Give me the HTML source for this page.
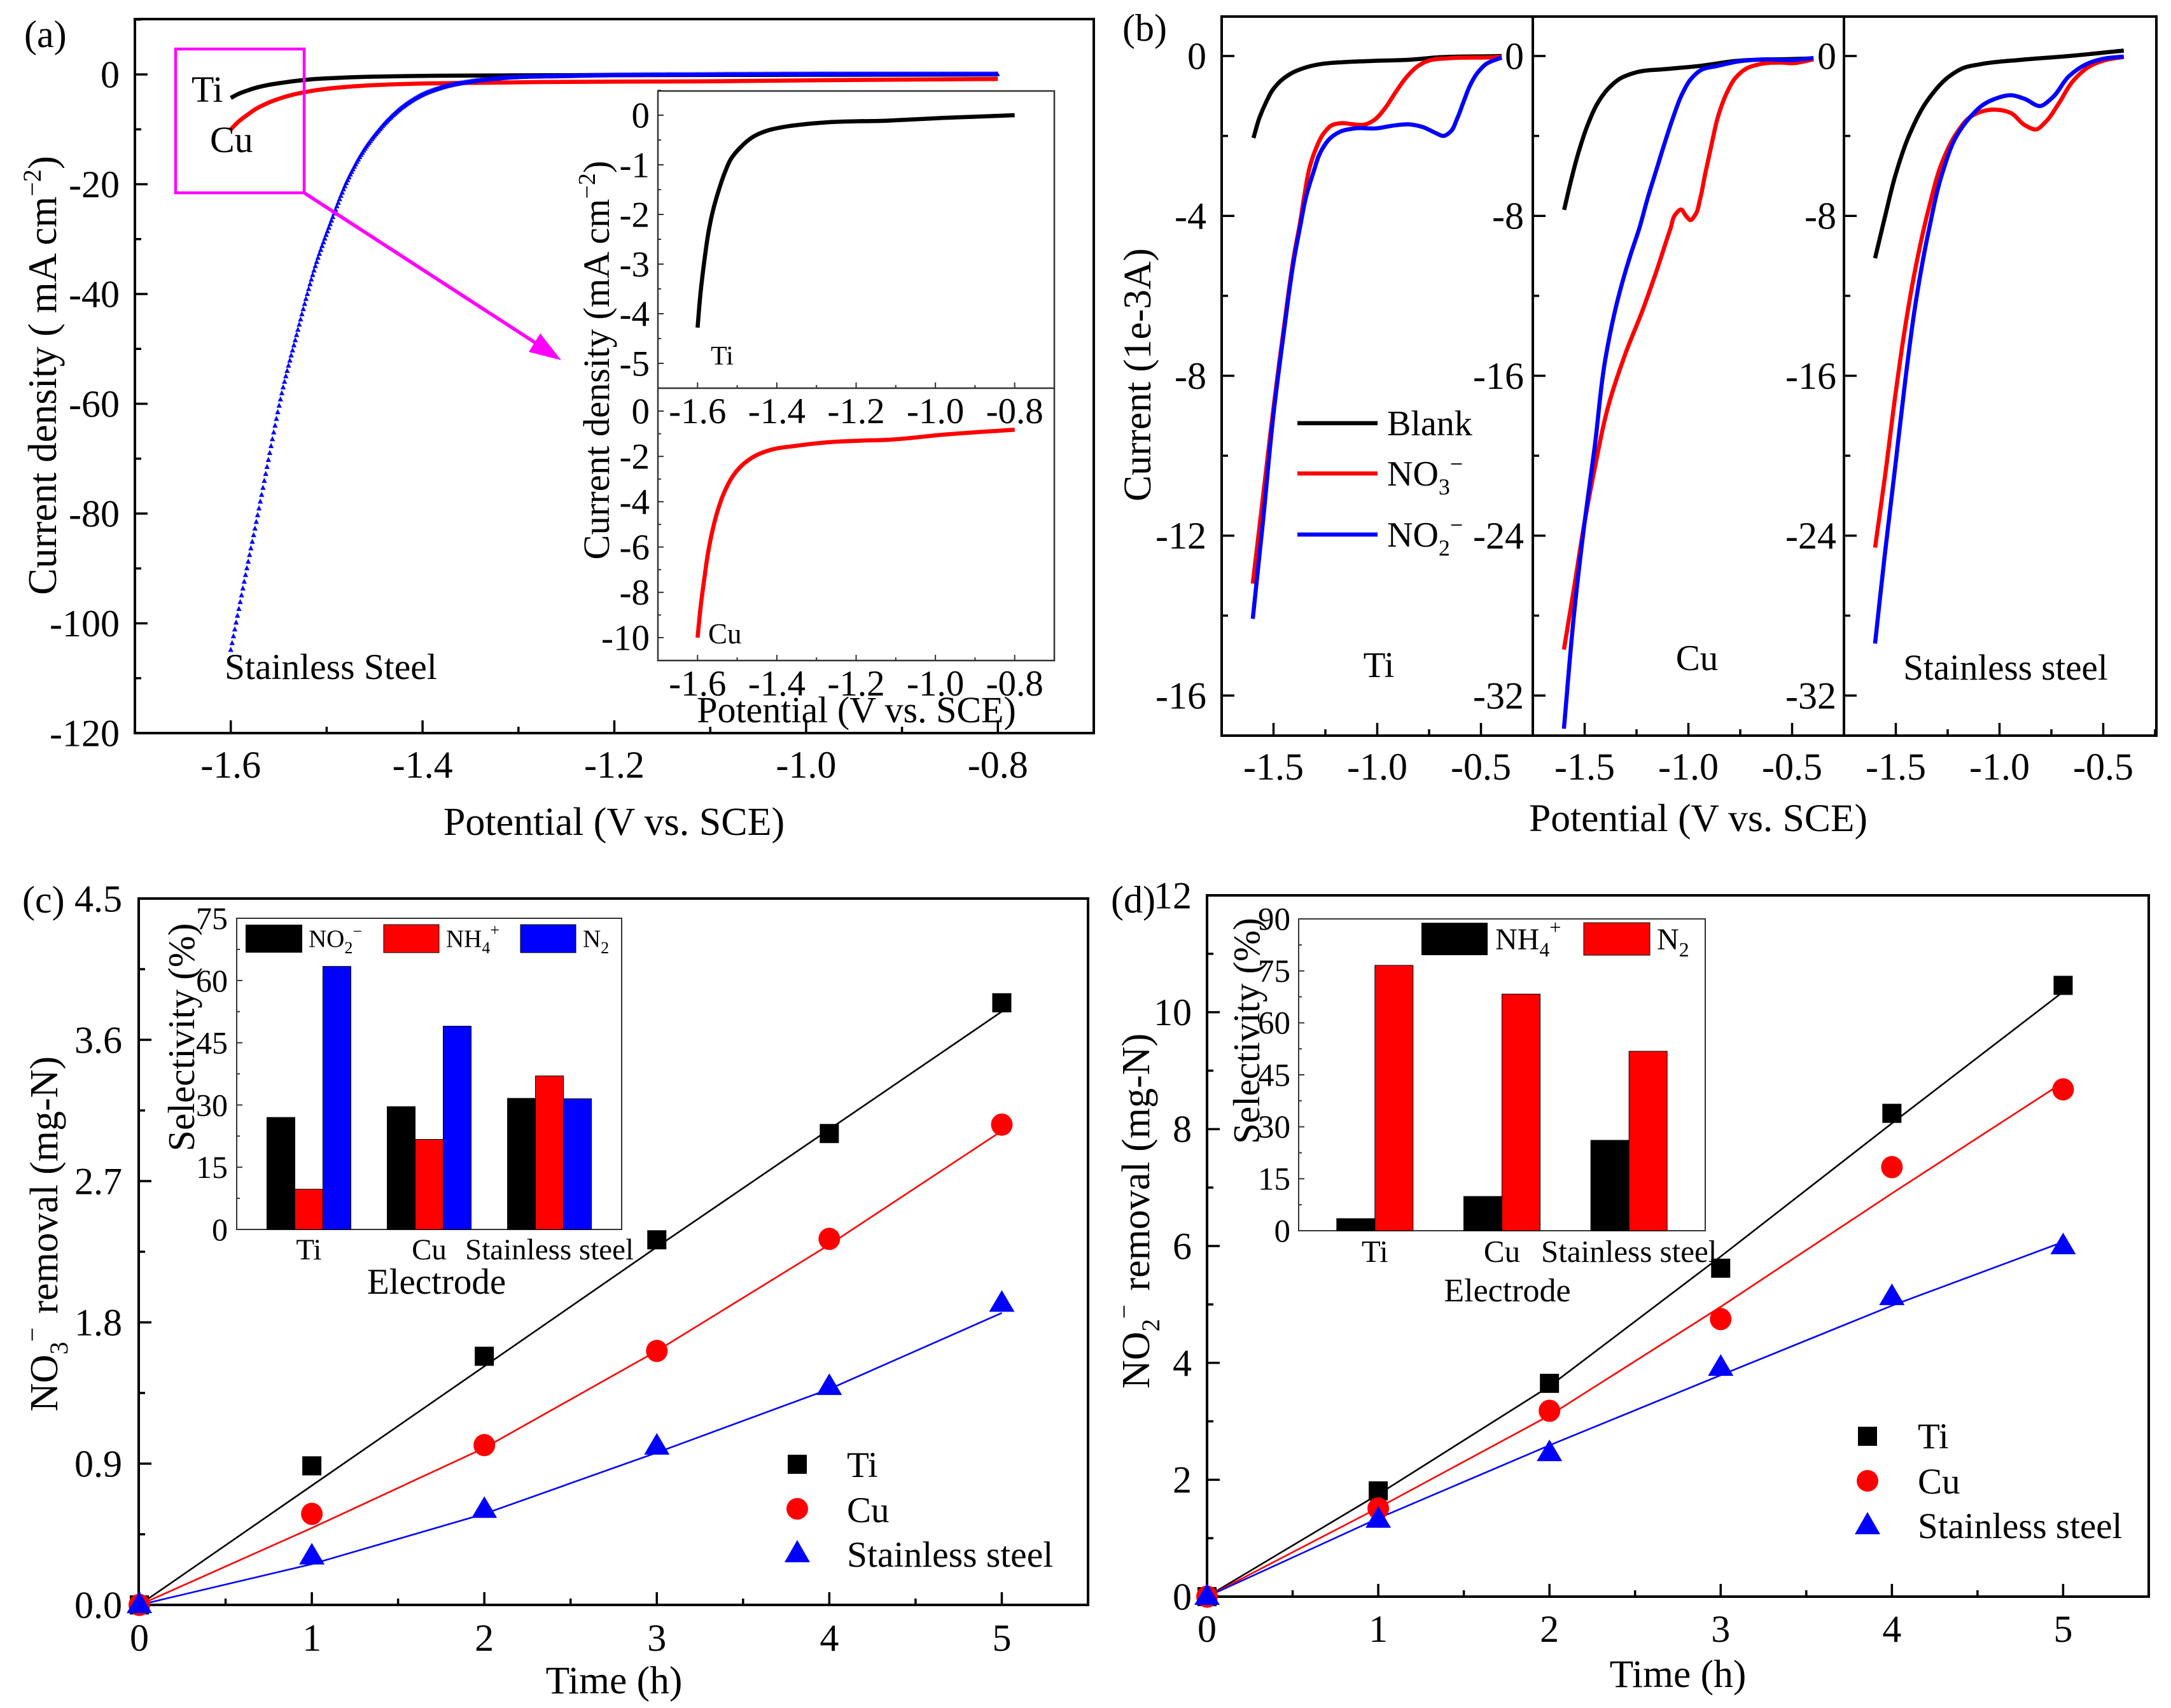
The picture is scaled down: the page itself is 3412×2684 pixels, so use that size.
<!DOCTYPE html>
<html lang="en">
<head>
<meta charset="utf-8">
<title>Electrochemical nitrate and nitrite reduction figure</title>
<style>
html,body{margin:0;padding:0;background:#fff;}
svg{display:block;font-family:"Liberation Serif",serif;fill:#000;}
text{fill:#000;}
</style>
</head>
<body>
<svg id="figure" xmlns="http://www.w3.org/2000/svg" width="3412" height="2684" viewBox="0 0 3412 2684">
  <rect x="0" y="0" width="3412" height="2684" fill="#fff"/>

  <!-- Panel a -->
  <text x="38" y="74" font-size="60">(a)</text>
  <rect x="212" y="30" width="1507" height="1122" fill="none" stroke="#000" stroke-width="4"/>
  <text x="965" y="1312" font-size="62" text-anchor="middle">Potential (V vs. SCE)</text>
  <text transform="translate(88,590) rotate(-90)" font-size="63" text-anchor="middle">Current density ( mA cm<tspan dy="-24" font-size="40">−2</tspan><tspan dy="24">)</tspan></text>
  <g id="panel-a-plot"></g>
  <text x="301" y="160" font-size="58">Ti</text>
  <text x="330" y="239" font-size="58">Cu</text>
  <text x="353" y="1067" font-size="57.5">Stainless Steel</text>
  <rect x="276" y="77" width="202" height="226" fill="none" stroke="#f0f" stroke-width="4.5"/>
  <line x1="478" y1="303" x2="845" y2="541" stroke="#f0f" stroke-width="5.5"/>
  <polygon points="882,566 831,553 849,524" fill="#f0f"/>

  <rect x="1034" y="143" width="623" height="895" fill="#fff" stroke="#333" stroke-width="2.5"/>
  <line x1="1034" y1="610" x2="1657" y2="610" stroke="#333" stroke-width="2.5"/>
  <g id="panel-a-inset"></g>
  <text x="1346" y="1135" font-size="58" text-anchor="middle">Potential (V vs. SCE)</text>
  <text transform="translate(957,566) rotate(-90)" font-size="58.5" text-anchor="middle">Current density (mA cm<tspan dy="-22" font-size="38">−2</tspan><tspan dy="22">)</tspan></text>
  <text x="1117" y="573" font-size="42">Ti</text>
  <text x="1113" y="1011" font-size="45">Cu</text>

  <!-- Panel b -->
  <text x="1764" y="64" font-size="60">(b)</text>
  <rect x="1920" y="26" width="1469" height="1130" fill="none" stroke="#000" stroke-width="4"/>
  <line x1="2409" y1="26" x2="2409" y2="1156" stroke="#000" stroke-width="4"/>
  <line x1="2898" y1="26" x2="2898" y2="1156" stroke="#000" stroke-width="4"/>
  <g id="panel-b-plot"></g>
  <text x="2669" y="1306" font-size="61.5" text-anchor="middle">Potential (V vs. SCE)</text>
  <text transform="translate(1808,589) rotate(-90)" font-size="61.5" text-anchor="middle">Current (1e-3A)</text>
  <line x1="2039" y1="665" x2="2165" y2="665" stroke="#000" stroke-width="6.5"/>
  <text x="2180" y="684" font-size="56">Blank</text>
  <line x1="2039" y1="744" x2="2165" y2="744" stroke="#f00" stroke-width="6.5"/>
  <text x="2180" y="763" font-size="56">NO<tspan dy="14" font-size="36">3</tspan><tspan dy="-36" font-size="36">−</tspan></text>
  <line x1="2039" y1="840" x2="2165" y2="840" stroke="#00f" stroke-width="6.5"/>
  <text x="2180" y="859" font-size="56">NO<tspan dy="14" font-size="36">2</tspan><tspan dy="-36" font-size="36">−</tspan></text>
  <text x="2167" y="1064" font-size="57" text-anchor="middle">Ti</text>
  <text x="2667" y="1053" font-size="57" text-anchor="middle">Cu</text>
  <text x="3152" y="1068" font-size="57" text-anchor="middle">Stainless steel</text>

  <!-- Panel c -->
  <text x="35" y="1434" font-size="60">(c)</text>
  <rect x="218" y="1412" width="1492" height="1110" fill="none" stroke="#000" stroke-width="4"/>
  <g id="panel-c-plot"></g>
  <text x="965" y="2661" font-size="61.5" text-anchor="middle">Time (h)</text>
  <text transform="translate(90,1939) rotate(-90)" font-size="62" text-anchor="middle">NO<tspan dy="16" font-size="40">3</tspan><tspan dy="-42" font-size="40">−</tspan><tspan dy="26" dx="6"> removal (mg-N)</tspan></text>
  <rect x="1238" y="2286" width="30" height="30" fill="#000"/>
  <ellipse cx="1253" cy="2371" rx="17" ry="17" fill="#f00"/>
  <polygon points="1253,2420 1273,2455 1233,2455" fill="#00f"/>
  <text x="1331" y="2321" font-size="57">Ti</text>
  <text x="1331" y="2392" font-size="57">Cu</text>
  <text x="1331" y="2462" font-size="57.5">Stainless steel</text>
  <rect x="372" y="1443" width="605" height="489" fill="#fff" stroke="#333" stroke-width="2"/>
  <g id="panel-c-inset"></g>
  <text transform="translate(305,1630) rotate(-90)" font-size="59.5" text-anchor="middle">Selectivity (%)</text>
  <text x="686" y="2033" font-size="57" text-anchor="middle">Electrode</text>
  <rect x="386" y="1453" width="89" height="44" fill="#000"/>
  <text x="485" y="1488" font-size="39">NO<tspan dy="10" font-size="26">2</tspan><tspan dy="-26" font-size="26">−</tspan></text>
  <rect x="603" y="1453" width="87" height="44" fill="#f00" stroke="#000" stroke-width="1"/>
  <text x="701" y="1488" font-size="39">NH<tspan dy="10" font-size="26">4</tspan><tspan dy="-28" font-size="26">+</tspan></text>
  <rect x="818" y="1453" width="87" height="44" fill="#00f" stroke="#000" stroke-width="1"/>
  <text x="916" y="1488" font-size="39">N<tspan dy="10" font-size="26">2</tspan></text>

  <!-- Panel d -->
  <text x="1746" y="1434" font-size="60">(d)</text>
  <rect x="1897" y="1407" width="1480" height="1102" fill="none" stroke="#000" stroke-width="4"/>
  <g id="panel-d-plot"></g>
  <text x="2637" y="2651" font-size="61.5" text-anchor="middle">Time (h)</text>
  <text transform="translate(1806,1903) rotate(-90)" font-size="62" text-anchor="middle">NO<tspan dy="16" font-size="40">2</tspan><tspan dy="-42" font-size="40">−</tspan><tspan dy="26" dx="6"> removal (mg-N)</tspan></text>
  <rect x="2920" y="2242" width="30" height="30" fill="#000"/>
  <ellipse cx="2935" cy="2327" rx="17" ry="17" fill="#f00"/>
  <polygon points="2935,2376 2955,2411 2915,2411" fill="#00f"/>
  <text x="3014" y="2276" font-size="57">Ti</text>
  <text x="3014" y="2347" font-size="57">Cu</text>
  <text x="3014" y="2417" font-size="57">Stainless steel</text>
  <rect x="2041" y="1444" width="639" height="490" fill="#fff" stroke="#333" stroke-width="2"/>
  <g id="panel-d-inset"></g>
  <text transform="translate(1979,1620) rotate(-90)" font-size="59" text-anchor="middle">Selectivity (%)</text>
  <text x="2369" y="2045" font-size="52" text-anchor="middle">Electrode</text>
  <rect x="2234" y="1450" width="104" height="51" fill="#000"/>
  <text x="2350" y="1492" font-size="48">NH<tspan dy="11" font-size="32">4</tspan><tspan dy="-35" font-size="32">+</tspan></text>
  <rect x="2489" y="1450" width="104" height="51" fill="#f00" stroke="#000" stroke-width="1"/>
  <text x="2604" y="1492" font-size="48">N<tspan dy="11" font-size="32">2</tspan></text>
</svg>

<script>
/* ---------- Panel (a) data ---------- */
const aTiPotential = [-1.6,-1.5925,-1.583,-1.572,-1.562,-1.548,-1.532,-1.516,-1.492,-1.46,-1.423,-1.381,-1.327,-1.274,-1.12,-0.98,-0.8];
const aTiCurrent = [-4.28,-3.58,-2.94,-2.34,-1.95,-1.55,-1.17,-0.885,-0.65,-0.436,-0.308,-0.235,-0.18,-0.145,-0.11,-0.055,0];
const aCuPotential = [-1.6,-1.592,-1.583,-1.574,-1.564,-1.551,-1.535,-1.525,-1.514,-1.487,-1.455,-1.413,-1.354,-1.274,-1.194,-1.114,-0.979,-0.8];
const aCuCurrent = [-10,-8.6,-7.4,-6.3,-5.4,-4.5,-3.68,-3.3,-2.95,-2.38,-1.98,-1.7,-1.54,-1.38,-1.31,-1.26,-1.04,-0.82];
const aSteelPotential = [-1.6,-1.585,-1.57,-1.555,-1.549,-1.5315,-1.5136,-1.4931,-1.4805,-1.4652,-1.4473,-1.4258,-1.403,-1.381,-1.351,-1.322,-1.247,-1.1,-0.8];
const aSteelCurrent = [-104.8,-91.5,-78.5,-65,-59.8,-47.5,-35.9,-25.7,-20.1,-14.9,-10.5,-6.6,-3.9,-2.4,-1.3,-0.7,-0.25,0,0.1];
const aXTicks = [-1.6,-1.4,-1.2,-1.0,-0.8];
const aYTicks = [0,-20,-40,-60,-80,-100,-120];
const aInsetTopYTicks = [0,-1,-2,-3,-4,-5];
const aInsetBottomYTicks = [0,-2,-4,-6,-8,-10];

/* ---------- Panel (b) data ---------- */
const bTiBlankV = [-1.5966,-1.566,-1.535,-1.505,-1.464,-1.413,-1.351,-1.27,-1.167,-1.004,-0.851,-0.697,-0.431,-0.4];
const bTiBlankI = [-2.05,-1.517,-1.146,-0.855,-0.616,-0.43,-0.297,-0.2,-0.154,-0.12,-0.095,-0.03,-0.005,0];
const bTiNo3V = [-1.6,-1.55,-1.5,-1.45,-1.4,-1.372,-1.351,-1.326,-1.295,-1.259,-1.218,-1.167,-1.116,-1.065,-1.014,-0.963,-0.912,-0.86,-0.809,-0.748,-0.667,-0.431,-0.4];
const bTiNo3I = [-13.2,-11,-8.8,-6.8,-4.95,-4.17,-3.48,-2.79,-2.31,-1.94,-1.73,-1.68,-1.71,-1.72,-1.6,-1.31,-0.91,-0.536,-0.27,-0.11,-0.06,-0.03,-0.02];
const bTiNo2V = [-1.6,-1.55,-1.5,-1.45,-1.4,-1.372,-1.341,-1.31,-1.27,-1.229,-1.177,-1.106,-1.004,-0.922,-0.85,-0.779,-0.717,-0.681,-0.646,-0.615,-0.584,-0.554,-0.518,-0.472,-0.431,-0.4];
const bTiNo2I = [-14.08,-11.6,-8.95,-6.9,-5.05,-4.28,-3.48,-2.95,-2.37,-2.07,-1.89,-1.81,-1.81,-1.74,-1.71,-1.78,-1.93,-2.0,-1.89,-1.57,-1.15,-0.75,-0.43,-0.19,-0.095,-0.04];
const bCuBlankV = [-1.599,-1.563,-1.527,-1.486,-1.44,-1.389,-1.328,-1.256,-1.103,-0.939,-0.775,-0.499,-0.397];
const bCuBlankI = [-7.7,-6.11,-4.73,-3.46,-2.4,-1.66,-1.12,-0.83,-0.65,-0.49,-0.25,-0.15,-0.12];
const bCuNo3V = [-1.6,-1.551,-1.5,-1.451,-1.385,-1.303,-1.22,-1.155,-1.087,-1.062,-1.036,-1.01,-0.99,-0.968,-0.944,-0.919,-0.888,-0.857,-0.816,-0.775,-0.724,-0.652,-0.55,-0.499,-0.397];
const bCuNo3I = [-29.7,-26.6,-23.3,-20.6,-17.47,-14.88,-12.7,-10.8,-8.66,-7.92,-7.68,-8.02,-8.21,-7.97,-7.17,-5.9,-4.42,-3.03,-1.87,-1.12,-0.65,-0.4,-0.33,-0.36,-0.17];
const bCuNo2V = [-1.6,-1.551,-1.5,-1.451,-1.401,-1.336,-1.285,-1.236,-1.195,-1.154,-1.113,-1.072,-1.031,-0.99,-0.939,-0.857,-0.775,-0.632,-0.499,-0.397];
const bCuNo2I = [-33.66,-27.9,-23.3,-19.5,-15.2,-12,-10.15,-8.6,-7.07,-5.69,-4.31,-3.03,-1.92,-1.18,-0.7,-0.49,-0.3,-0.17,-0.2,-0.1];
const bSteelBlankV = [-1.6,-1.553,-1.5,-1.437,-1.339,-1.24,-1.174,-1.092,-0.895,-0.664,-0.401];
const bSteelBlankI = [-10.12,-8.08,-5.9,-4.0,-2.1,-1.0,-0.6,-0.41,-0.19,0,0.27];
const bSteelNo3V = [-1.6,-1.553,-1.5,-1.454,-1.405,-1.339,-1.273,-1.207,-1.141,-1.076,-1.01,-0.944,-0.878,-0.822,-0.78,-0.714,-0.648,-0.566,-0.484,-0.401];
const bSteelNo3I = [-24.6,-21.1,-16.8,-13.5,-10.6,-7.54,-5.22,-3.86,-3.05,-2.75,-2.69,-2.86,-3.46,-3.67,-3.32,-2.37,-1.28,-0.52,-0.19,-0.05];
const bSteelNo2V = [-1.6,-1.553,-1.5,-1.454,-1.405,-1.339,-1.273,-1.207,-1.141,-1.076,-1.01,-0.944,-0.878,-0.803,-0.747,-0.664,-0.582,-0.5,-0.401];
const bSteelNo2I = [-29.4,-24.95,-20.3,-16.2,-12.4,-8.63,-5.77,-4.0,-3.05,-2.42,-2.1,-1.96,-2.15,-2.5,-2.1,-1.0,-0.41,-0.14,-0.03];
const bXTicks = [-1.5,-1.0,-0.5];
const bYTicksTi = [0,-4,-8,-12,-16];
const bYTicksWide = [0,-8,-16,-24,-32];

/* ---------- Panel (c) data ---------- */
const timeHours = [0,1,2,3,4,5];
const cTiPoints = [0,0.886,1.584,2.326,3.003,3.836];
const cCuPoints = [0,0.58,1.018,1.618,2.332,3.06];
const cSteelPoints = [0,0.31,0.607,1.01,1.39,1.92];
const cTiFit = [0,0.76,1.52,2.28,3.03,3.78];
const cCuFit = [0,0.49,1.0,1.618,2.295,3.02];
const cSteelFit = [0,0.26,0.58,0.97,1.375,1.86];
const cXTicks = [0,1,2,3,4,5];
const cYTicks = [0,0.9,1.8,2.7,3.6,4.5];
const cCategories = ['Ti','Cu','Stainless steel'];
const cSelectivityNo2 = [27.0,29.6,31.6];
const cSelectivityNh4 = [9.7,21.7,37];
const cSelectivityN2 = [63.4,49,31.5];
const cInsetYTicks = [0,15,30,45,60,75];

/* ---------- Panel (d) data ---------- */
const dTiPoints = [0,1.81,3.65,5.62,8.27,10.46];
const dCuPoints = [0,1.51,3.18,4.75,7.35,8.68];
const dSteelPoints = [0,1.32,2.46,3.92,5.13,6.0];
const dTiFit = [0,1.75,3.6,5.82,8.1,10.35];
const dCuFit = [0,1.52,3.1,4.96,6.9,8.8];
const dSteelFit = [0,1.34,2.59,3.79,4.98,6.07];
const dXTicks = [0,1,2,3,4,5];
const dYTicks = [0,2,4,6,8,10,12];
const dCategories = ['Ti','Cu','Stainless steel'];
const dSelectivityNh4 = [3.5,9.9,26.1];
const dSelectivityN2 = [76.6,68.3,51.8];
const dInsetYTicks = [0,15,30,45,60,75,90];

/* ---------- Helpers ---------- */
const SVGNS = 'http://www.w3.org/2000/svg';
function linear(d0,d1,r0,r1){ return function(v){ return r0+(v-d0)*(r1-r0)/(d1-d0); }; }
function node(parent,tag,name,props){
  const el = document.createElementNS(SVGNS,tag);
  
  
  for(const k in props){ el.setAttribute(k,props[k]); }
  parent.appendChild(el);
  return el;
}
function smoothPath(xs,ys){
  const n=xs.length, d=[];
  for(let i=0;i<n-1;i++){ d.push(Math.hypot(xs[i+1]-xs[i],ys[i+1]-ys[i])||1); }
  const tx=[],ty=[];
  for(let i=0;i<n;i++){
    if(i===0){ tx.push((xs[1]-xs[0])/d[0]); ty.push((ys[1]-ys[0])/d[0]); continue; }
    if(i===n-1){ tx.push((xs[i]-xs[i-1])/d[i-1]); ty.push((ys[i]-ys[i-1])/d[i-1]); continue; }
    const a=d[i-1], b=d[i], w=a+b;
    tx.push(((b/w)*(xs[i]-xs[i-1])/a)+((a/w)*(xs[i+1]-xs[i])/b));
    ty.push(((b/w)*(ys[i]-ys[i-1])/a)+((a/w)*(ys[i+1]-ys[i])/b));
  }
  let s='M'+xs[0].toFixed(1)+' '+ys[0].toFixed(1);
  for(let i=0;i<n-1;i++){
    const h=d[i]/3;
    s+=' C'+(xs[i]+tx[i]*h).toFixed(1)+' '+(ys[i]+ty[i]*h).toFixed(1)+' '+
      (xs[i+1]-tx[i+1]*h).toFixed(1)+' '+(ys[i+1]-ty[i+1]*h).toFixed(1)+' '+
      xs[i+1].toFixed(1)+' '+ys[i+1].toFixed(1);
  }
  return s;
}
function curve(parent,name,xs,ys,sx,sy,color,width){
  return node(parent,'path',name,{d:smoothPath(xs.map(sx),ys.map(sy)),fill:'none',stroke:color,'stroke-width':width,'stroke-linejoin':'round'});
}
function hermite(xs,ys,v){
  let i=0; while(i<xs.length-2 && v>xs[i+1]){ i++; }
  const h=xs[i+1]-xs[i], t=(v-xs[i])/h;
  const slope=function(k){
    if(k<=0){ return (ys[1]-ys[0])/(xs[1]-xs[0]); }
    if(k>=xs.length-1){ return (ys[k]-ys[k-1])/(xs[k]-xs[k-1]); }
    const a=xs[k]-xs[k-1], b=xs[k+1]-xs[k];
    return (b/(a+b))*(ys[k]-ys[k-1])/a+(a/(a+b))*(ys[k+1]-ys[k])/b;
  };
  const m0=slope(i), m1=slope(i+1);
  const t2=t*t,t3=t2*t;
  return (2*t3-3*t2+1)*ys[i]+(t3-2*t2+t)*h*m0+(-2*t3+3*t2)*ys[i+1]+(t3-t2)*h*m1;
}
function triangleTrace(parent,name,xs,ys,sx,sy,color,step){
  let d='';
  for(let v=xs[0];v<=xs[xs.length-1]+1e-9;v+=step){
    const px=sx(v), py=sy(hermite(xs,ys,v));
    d+='M'+px.toFixed(1)+' '+(py-4.5).toFixed(1)+'l4.2 8h-8.4z';
  }
  return node(parent,'path',name,{d:d,fill:color});
}
function xAxis(parent,prefix,ticks,sx,yBase,opt){
  const major=ticks[1]-ticks[0], minorStep=major/2;
  const lo=opt.lo, hi=opt.hi;
  const n0=Math.ceil((lo-ticks[0])/minorStep-1e-6), n1=Math.floor((hi-ticks[0])/minorStep+1e-6);
  for(let k=n0;k<=n1;k++){
    const isMajor=k%2===0;
    const v=ticks[0]+k*minorStep;
    node(parent,'line',prefix+(isMajor?'-x-major-tick':'-x-minor-tick'),{x1:sx(v),x2:sx(v),y1:yBase,y2:yBase-(isMajor?opt.major:opt.minor),stroke:opt.color,'stroke-width':opt.width});
  }
  ticks.forEach(function(v){
    const t=node(parent,'text',prefix+'-x-tick-label',{x:sx(v),y:yBase+opt.offset,'font-size':opt.size,'text-anchor':'middle'});
    t.textContent=opt.format(v);
  });
}
function yAxis(parent,prefix,ticks,sy,xBase,opt){
  const major=ticks[1]-ticks[0], minorStep=major/2;
  const lo=opt.lo, hi=opt.hi;
  const a=(lo-ticks[0])/minorStep, b=(hi-ticks[0])/minorStep;
  const n0=Math.ceil(Math.min(a,b)-1e-6), n1=Math.floor(Math.max(a,b)+1e-6);
  for(let k=n0;k<=n1;k++){
    const isMajor=k%2===0;
    const v=ticks[0]+k*minorStep;
    node(parent,'line',prefix+(isMajor?'-y-major-tick':'-y-minor-tick'),{x1:xBase,x2:xBase+(isMajor?opt.major:opt.minor),y1:sy(v),y2:sy(v),stroke:opt.color,'stroke-width':opt.width});
  }
  ticks.forEach(function(v){
    const t=node(parent,'text',prefix+'-y-tick-label',{x:opt.labelX,y:sy(v)+opt.size*0.34,'font-size':opt.size,'text-anchor':'end'});
    t.textContent=opt.format(v);
  });
}
function fixed1(v){ return v.toFixed(1); }
function plain(v){ return String(v); }
function squareMark(parent,name,cx,cy){ return node(parent,'rect',name,{x:cx-15,y:cy-15,width:30,height:30,fill:'#000'}); }
function circleMark(parent,name,cx,cy){ return node(parent,'ellipse',name,{cx:cx,cy:cy,rx:17,ry:17.5,fill:'#f00'}); }
function triangleMark(parent,name,cx,cy){ return node(parent,'polygon',name,{points:cx+','+(cy-21)+' '+(cx+20)+','+(cy+13)+' '+(cx-20)+','+(cy+13),fill:'#00f'}); }
function polyFit(parent,name,xs,ys,sx,sy,color){
  return node(parent,'polyline',name,{points:xs.map(function(x,i){return sx(x).toFixed(1)+','+sy(ys[i]).toFixed(1);}).join(' '),fill:'none',stroke:color,'stroke-width':2.6});
}

/* ---------- Panel (a) ---------- */
(function(){
  const g=document.getElementById('panel-a-plot');
  const sx=linear(-1.7,-0.7,212,1719), sy=linear(0,-120,117,1152);
  const axisStyle={major:20,minor:10,color:'#000',width:3.5,size:60,offset:70,format:fixed1,lo:-1.7,hi:-0.7};
  xAxis(g,'panel-a',aXTicks,sx,1152,axisStyle);
  yAxis(g,'panel-a',aYTicks,sy,212,{major:20,minor:10,color:'#000',width:3.5,size:60,labelX:188,format:plain,lo:-120,hi:10});
  curve(g,'main-curve-ti',aTiPotential,aTiCurrent,sx,sy,'#000',6.5);
  curve(g,'main-curve-cu',aCuPotential,aCuCurrent,sx,sy,'#f00',6.5);
  triangleTrace(g,'main-curve-stainless-steel',aSteelPotential,aSteelCurrent,sx,sy,'#00f',0.0014);

  const ins=document.getElementById('panel-a-inset');
  const ix=linear(-1.7,-0.7,1034,1657);
  const iyTop=linear(0,-5,181,571), iyBot=linear(0,-10,646,1002);
  const ixStyle={major:9,minor:5,color:'#333',width:2,size:57,offset:55,format:fixed1,lo:-1.7,hi:-0.7};
  xAxis(ins,'inset-a-top',aXTicks,ix,610,ixStyle);
  xAxis(ins,'inset-a-bottom',aXTicks,ix,1038,ixStyle);
  yAxis(ins,'inset-a-top',aInsetTopYTicks,iyTop,1034,{major:9,minor:5,color:'#333',width:2,size:57,labelX:1021,format:plain,lo:-5.5,hi:0.5});
  yAxis(ins,'inset-a-bottom',aInsetBottomYTicks,iyBot,1034,{major:9,minor:5,color:'#333',width:2,size:57,labelX:1021,format:plain,lo:-10.5,hi:0});
  curve(ins,'inset-curve-ti',aTiPotential,aTiCurrent,ix,iyTop,'#000',6.5);
  curve(ins,'inset-curve-cu',aCuPotential,aCuCurrent,ix,iyBot,'#f00',6.5);
})();

/* ---------- Panel (b) ---------- */
(function(){
  const g=document.getElementById('panel-b-plot');
  const sy1=linear(0,-16,88,1093), sy2=linear(0,-32,88,1093);
  const subs=[
    {id:'ti',left:1920,ticks:bYTicksTi,sy:sy1,labelX:1896,lo:-17,hi:1,
     series:[[bTiBlankV,bTiBlankI,'#000','blank'],[bTiNo3V,bTiNo3I,'#f00','no3'],[bTiNo2V,bTiNo2I,'#00f','no2']]},
    {id:'cu',left:2409,ticks:bYTicksWide,sy:sy2,labelX:2395,lo:-34,hi:2,
     series:[[bCuBlankV,bCuBlankI,'#000','blank'],[bCuNo3V,bCuNo3I,'#f00','no3'],[bCuNo2V,bCuNo2I,'#00f','no2']]},
    {id:'steel',left:2898,ticks:bYTicksWide,sy:sy2,labelX:2886,lo:-34,hi:2,
     series:[[bSteelBlankV,bSteelBlankI,'#000','blank'],[bSteelNo3V,bSteelNo3I,'#f00','no3'],[bSteelNo2V,bSteelNo2I,'#00f','no2']]}
  ];
  subs.forEach(function(p){
    const sx=linear(-1.75,-0.25,p.left,p.left+489);
    xAxis(g,'panel-b-'+p.id,bXTicks,sx,1156,{major:20,minor:10,color:'#000',width:3.5,size:60,offset:69,format:fixed1,lo:-1.75,hi:-0.25});
    yAxis(g,'panel-b-'+p.id,p.ticks,p.sy,p.left,{major:20,minor:10,color:'#000',width:3.5,size:60,labelX:p.labelX,format:plain,lo:p.lo,hi:p.hi});
    p.series.forEach(function(s){
      curve(g,'curve-'+p.id+'-'+s[3],s[0],s[1],sx,p.sy,s[2],6.5);
    });
  });
})();

/* ---------- Panels (c) and (d) scatter ---------- */
function drawRemoval(gid,prefix,sx,sy,yTicks,xTicks,yBase,xBase,labelX,xOffset,yHi,xFormat,yFormat,fits,points){
  const g=document.getElementById(gid);
  xAxis(g,prefix,xTicks,sx,yBase,{major:20,minor:10,color:'#000',width:3.5,size:60,offset:xOffset,format:xFormat,lo:0,hi:5.5});
  yAxis(g,prefix,yTicks,sy,xBase,{major:20,minor:10,color:'#000',width:3.5,size:60,labelX:labelX,format:yFormat,lo:0,hi:yHi});
  polyFit(g,prefix+'-fit-ti',timeHours,fits[0],sx,sy,'#000');
  polyFit(g,prefix+'-fit-cu',timeHours,fits[1],sx,sy,'#f00');
  polyFit(g,prefix+'-fit-stainless-steel',timeHours,fits[2],sx,sy,'#00f');
  timeHours.forEach(function(t,i){ squareMark(g,prefix+'-point-ti',sx(t),sy(points[0][i])); });
  timeHours.forEach(function(t,i){ circleMark(g,prefix+'-point-cu',sx(t),sy(points[1][i])); });
  timeHours.forEach(function(t,i){ triangleMark(g,prefix+'-point-stainless-steel',sx(t),sy(points[2][i])); });
}
drawRemoval('panel-c-plot','panel-c',linear(0,5.5,219,1710),linear(0,4.5,2522,1412),cYTicks,cXTicks,2522,218,192,72,4.5,plain,fixed1,[cTiFit,cCuFit,cSteelFit],[cTiPoints,cCuPoints,cSteelPoints]);
drawRemoval('panel-d-plot','panel-d',linear(0,5.5,1897,3377),linear(0,12,2509,1407),dYTicks,dXTicks,2509,1897,1873,71,12,plain,plain,[dTiFit,dCuFit,dSteelFit],[dTiPoints,dCuPoints,dSteelPoints]);

/* ---------- Inset bar charts ---------- */
function drawBars(gid,prefix,left,right,top,bottom,yMax,ticks,labelX,labelSize,barWidth,categories,series,names,colors,catY,catSize){
  const g=document.getElementById(gid);
  const sx=linear(0.4,3.6,left,right), sy=linear(0,yMax,bottom,top);
  yAxis(g,prefix,ticks,sy,left,{major:9,minor:5,color:'#333',width:2,size:labelSize,labelX:labelX,format:plain,lo:0,hi:yMax});
  categories.forEach(function(c,i){
    const cx=sx(i+1);
    series.forEach(function(vals,j){
      const x0=cx+(j-series.length/2)*barWidth;
      node(g,'rect',prefix+'-bar-'+names[j]+'-'+c.toLowerCase().replace(' ','-'),{x:x0,y:sy(vals[i]),width:barWidth,height:bottom-sy(vals[i]),fill:colors[j],stroke:'#000','stroke-width':1});
    });
    const t=node(g,'text',prefix+'-category-label',{x:cx,y:catY,'font-size':catSize,'text-anchor':'middle'});
    t.textContent=c;
  });
}
drawBars('panel-c-inset','inset-c',372,977,1443,1932,75,cInsetYTicks,358,50,44,cCategories,[cSelectivityNo2,cSelectivityNh4,cSelectivityN2],['no2','nh4','n2'],['#000','#f00','#00f'],1979,47);
drawBars('panel-d-inset','inset-d',2041,2680,1444,1934,90,dInsetYTicks,2028,51,60,dCategories,[dSelectivityNh4,dSelectivityN2],['nh4','n2'],['#000','#f00'],1983,49);
</script>
</body>
</html>
